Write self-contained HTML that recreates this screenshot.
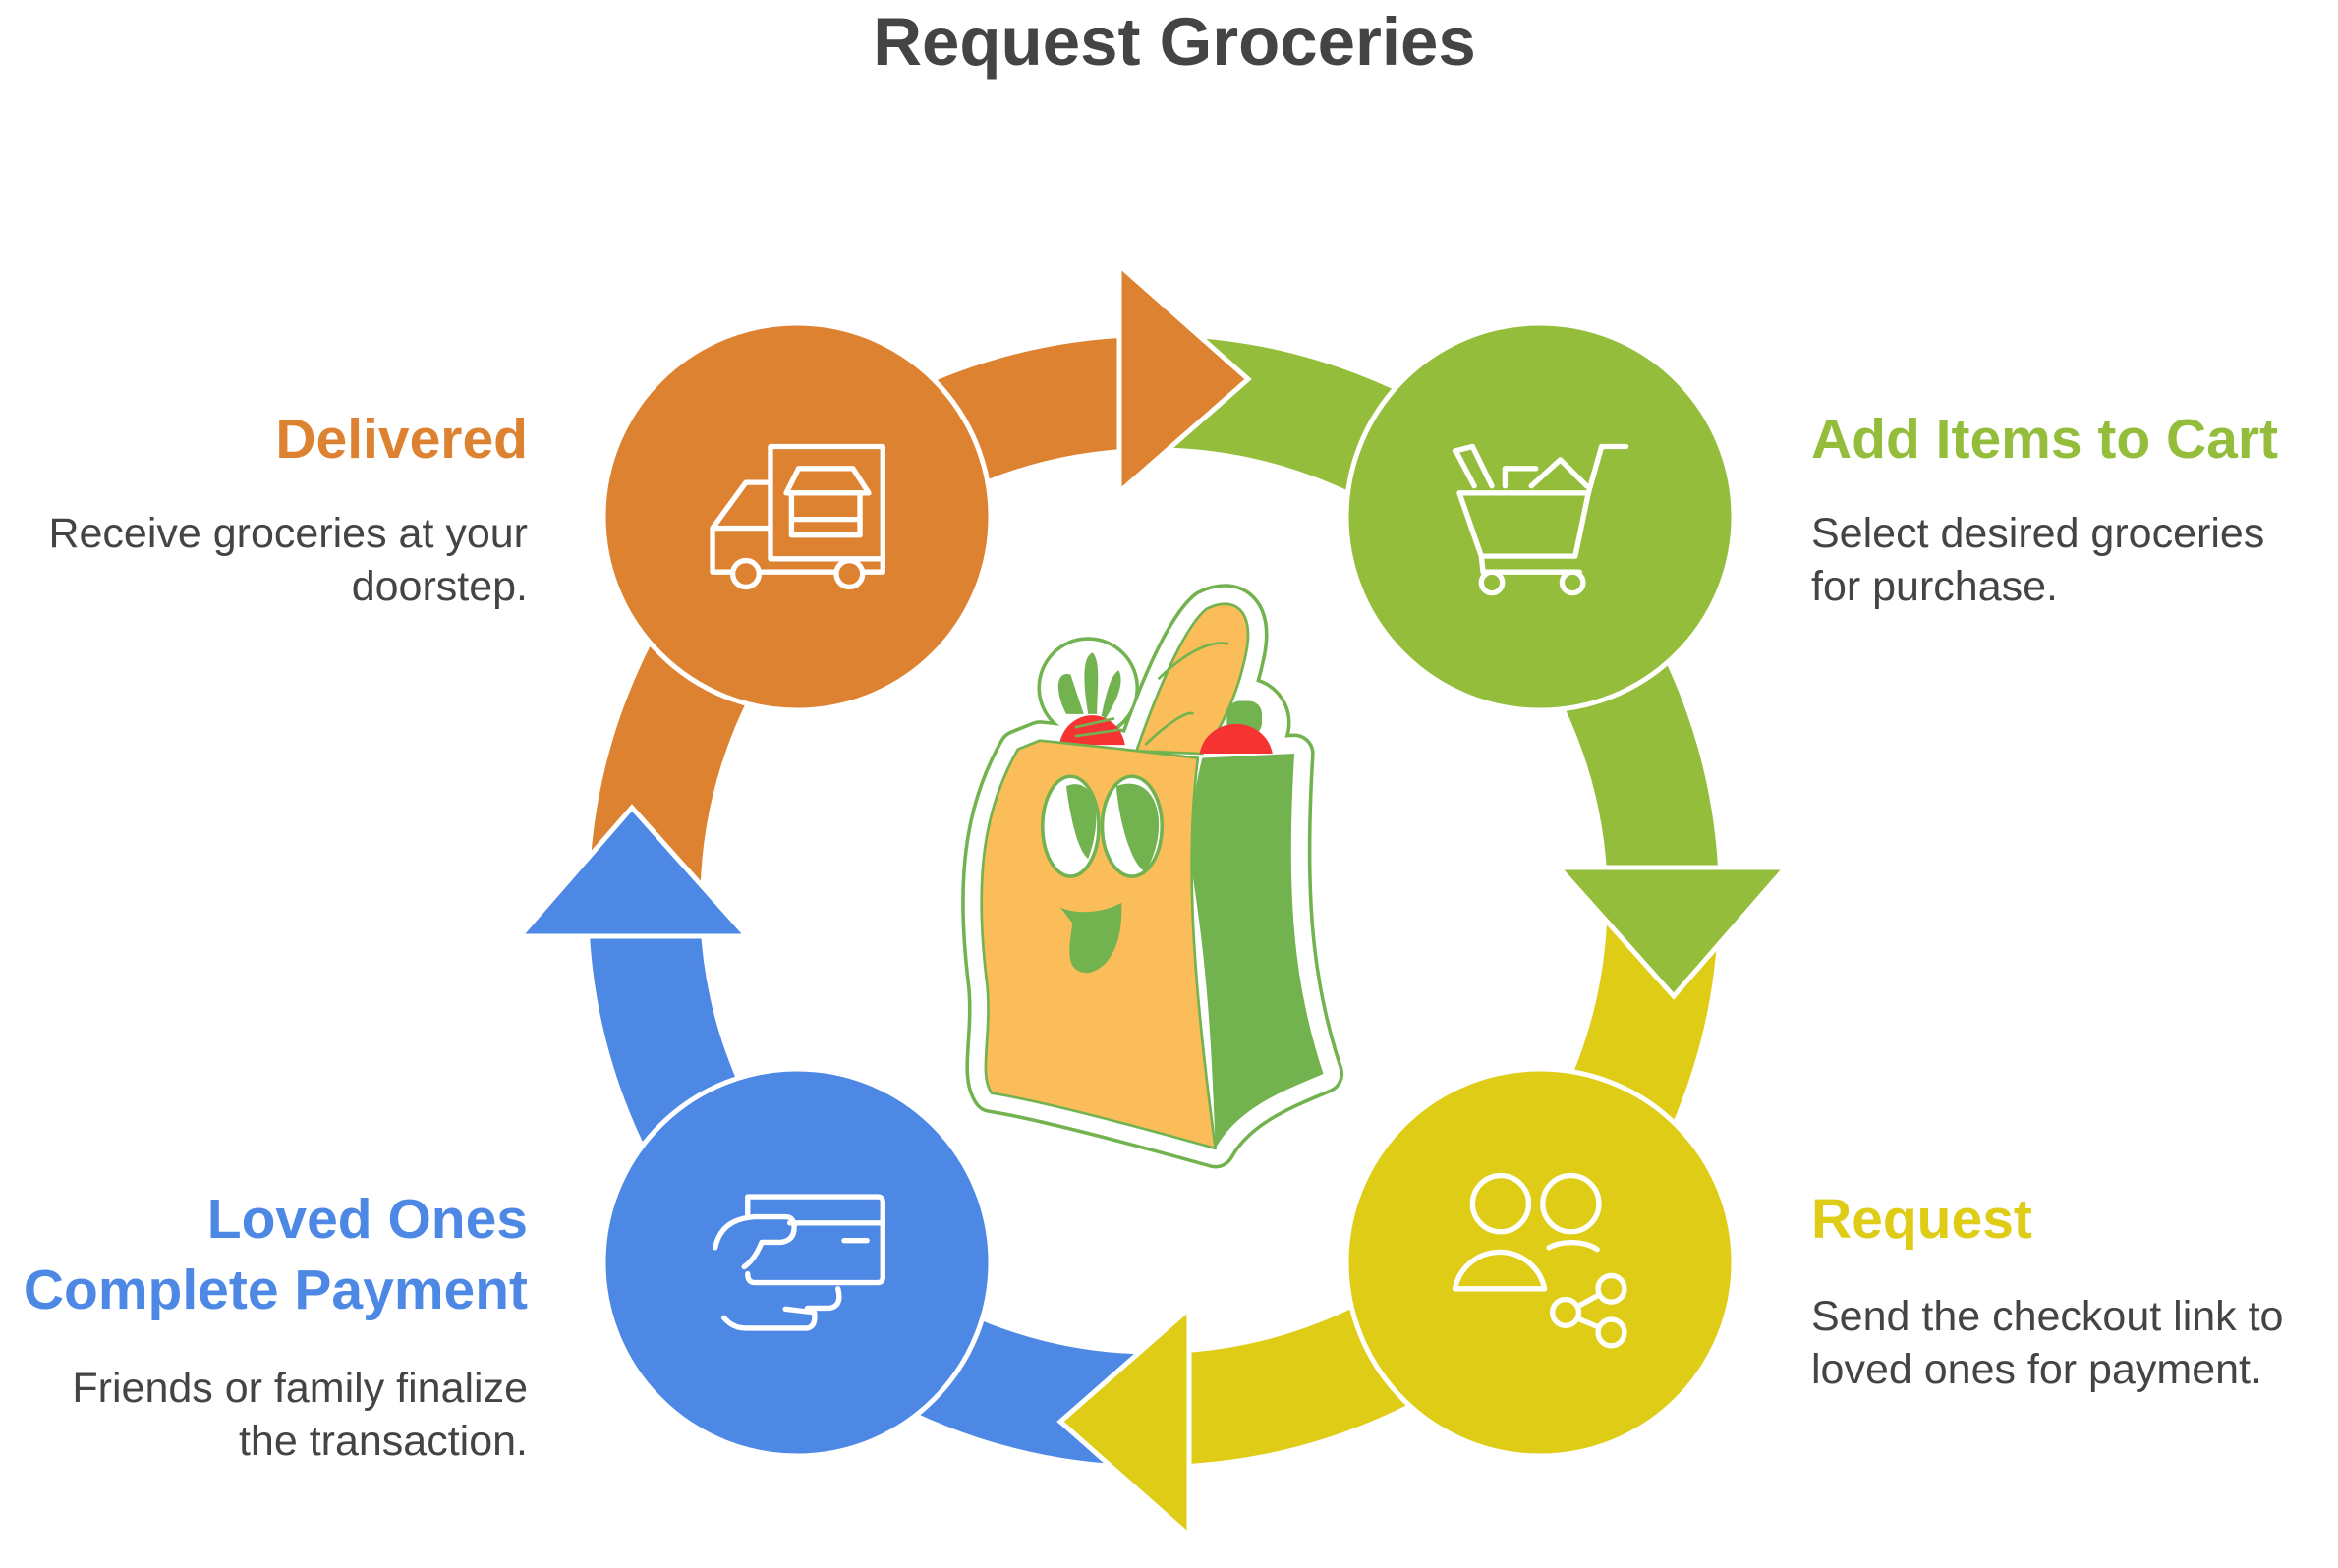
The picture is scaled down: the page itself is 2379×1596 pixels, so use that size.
<!DOCTYPE html>
<html><head><meta charset="utf-8"><style>
html,body{margin:0;padding:0;background:#fff;}
svg{display:block;}
text{font-family:"Liberation Sans",sans-serif;}
.h{font-weight:bold;font-size:57px;}
.b{font-size:43px;fill:#444;}
</style></head><body>
<svg width="2379" height="1596" viewBox="0 0 2379 1596" xmlns="http://www.w3.org/2000/svg">
<text x="1195" y="66" text-anchor="middle" font-weight="bold" font-size="69" fill="#444">Request Groceries</text>

<g fill="none" stroke-width="113">
 <path d="M656,917 A518,518 0 0 1 1150,400" stroke="#DD8230"/>
 <path d="M1174,399 A518,518 0 0 1 1692,893" stroke="#93BD3A"/>
 <path d="M1692,917 A518,518 0 0 1 1198,1434" stroke="#DFCC17"/>
 <path d="M1174,1435 A518,518 0 0 1 656,941" stroke="#4E88E5"/>
</g>
<g stroke="#fff" stroke-width="5" stroke-linejoin="miter">
 <polygon points="1139,270 1139,501 1270,386" fill="#DD8230"/>
 <polygon points="1586,883 1817,883 1703,1014" fill="#93BD3A"/>
 <polygon points="1210,1332 1210,1563 1079,1447" fill="#DFCC17"/>
 <polygon points="529,953 760,953 643,822" fill="#4E88E5"/>
</g>
<g stroke="#fff" stroke-width="5">
 <circle cx="811" cy="526" r="197" fill="#DD8230"/>
 <circle cx="1567" cy="526" r="197" fill="#93BD3A"/>
 <circle cx="1567" cy="1285" r="197" fill="#DFCC17"/>
 <circle cx="811" cy="1285" r="197" fill="#4E88E5"/>
</g>

<g transform="translate(500,200) scale(0.893)">
 <g fill="none" stroke="#fff" stroke-width="6" stroke-linejoin="round" stroke-linecap="round">
  <rect x="318" y="285" width="128" height="128"/>
  <path d="M318,326 L290,326 L252,378 L252,428 L275,428 M305,428 L393,428 M423,428 L446,428 L446,410 M252,378 L318,378"/>
  <circle cx="290" cy="430" r="15"/><circle cx="408" cy="430" r="15"/>
  <path d="M350,310 L412,310 L430,338 L336,338 Z"/>
  <rect x="342" y="338" width="78" height="48"/>
  <path d="M342,368 L420,368"/>
  <path d="M1103,338 L1250,338 L1235,410 L1128,410 Z"/>
  <path d="M1250,338 L1265,285 L1293,285"/>
  <path d="M1128,410 L1130,428 L1240,428"/>
  <circle cx="1140" cy="440" r="12"/><circle cx="1232" cy="440" r="12"/>
  <path d="M1098,290 L1118,285 L1140,330 M1100,292 L1120,330"/>
  <path d="M1155,330 L1155,310 L1190,310 M1185,330 L1218,300 L1248,330"/>
  <circle cx="1150" cy="1148" r="32"/><circle cx="1230" cy="1148" r="32"/>
  <path d="M1098,1245 A52,52 0 0 1 1200,1245 Z"/>
  <path d="M1205,1198 C1220,1190 1245,1190 1260,1200"/>
  <circle cx="1276" cy="1245" r="15"/><circle cx="1224" cy="1272" r="15"/><circle cx="1276" cy="1295" r="15"/>
  <path d="M1238,1265 L1262,1252 M1238,1279 L1262,1289"/>
  <path d="M292,1160 L292,1140 L440,1140 Q446,1140 446,1146 L446,1232 Q446,1238 440,1238 L300,1238 Q292,1238 292,1228"/>
  <path d="M340,1170 L446,1170 M402,1190 L428,1190"/>
  <path d="M255,1198 C260,1175 275,1165 300,1163 L335,1163 Q345,1163 345,1175 Q345,1190 330,1192 L308,1192 Q300,1212 288,1220"/>
  <path d="M265,1278 C275,1290 285,1290 295,1290 L360,1290 Q370,1288 368,1272 L335,1268 M395,1245 Q400,1265 385,1267 L360,1267"/>
 </g>

 <g stroke-linejoin="round">
  <g fill="#72B350" stroke="#72B350" stroke-width="46">
   <path d="M600,630 L625,620 L720,630 L800,640 L915,635 C905,800 915,900 948,1000 C900,1020 850,1040 825,1085 C700,1050 620,1030 570,1022 C555,1000 570,960 565,900 C550,780 560,700 600,630 Z"/>
   <path d="M735,632 C760,560 790,490 815,470 C845,455 870,470 860,520 C850,570 830,610 810,635 Z"/>
   <circle cx="680" cy="560" r="35"/><circle cx="858" cy="600" r="30"/>
  </g>
  <g fill="#fff" stroke="#fff" stroke-width="38">
   <path d="M600,630 L625,620 L720,630 L800,640 L915,635 C905,800 915,900 948,1000 C900,1020 850,1040 825,1085 C700,1050 620,1030 570,1022 C555,1000 570,960 565,900 C550,780 560,700 600,630 Z"/>
   <path d="M735,632 C760,560 790,490 815,470 C845,455 870,470 860,520 C850,570 830,610 810,635 Z"/>
   <circle cx="680" cy="560" r="35"/><circle cx="858" cy="600" r="30"/>
  </g>
  <path d="M655,590 C640,560 645,540 660,545 C665,560 670,575 675,590 Z M680,590 C675,560 672,525 685,520 C695,530 690,565 690,590 Z M695,592 C700,570 705,545 715,540 C722,555 712,575 700,595 Z" fill="#72B350"/>
  <rect x="838" y="575" width="40" height="40" rx="15" fill="#72B350"/>
  <path d="M735,632 C760,560 790,490 815,470 C845,455 870,470 860,520 C850,570 830,610 810,635 Z" fill="#FBBD59" stroke="#72B350" stroke-width="3"/>
  <path d="M760,550 C790,520 820,505 840,510 M745,625 C770,600 795,585 800,590" fill="none" stroke="#72B350" stroke-width="3"/>
  <path d="M647,625 A38,40 0 0 1 722,625 Z" fill="#F53333"/>
  <path d="M807,635 A42,40 0 0 1 890,635 Z" fill="#F53333"/>
  <path d="M665,605 L710,595 M665,615 L715,608" stroke="#72B350" stroke-width="3" fill="none"/>
  <path d="M600,630 L625,620 L720,630 L805,640 C790,760 800,900 825,1085 C700,1050 620,1030 570,1022 C555,1000 570,960 565,900 C550,780 560,700 600,630 Z" fill="#FBBD59" stroke="#72B350" stroke-width="3"/>
  <path d="M810,640 L915,635 C905,800 915,900 948,1000 C900,1020 850,1040 825,1085 C820,950 815,880 800,780 C795,720 800,680 810,640 Z" fill="#72B350"/>
  <ellipse cx="660" cy="718" rx="32" ry="57" fill="#fff" stroke="#72B350" stroke-width="4"/>
  <ellipse cx="730" cy="718" rx="34" ry="57" fill="#fff" stroke="#72B350" stroke-width="4"/>
  <path d="M655,672 C685,660 700,700 680,755 C668,745 660,710 655,672 Z" fill="#72B350"/>
  <path d="M712,672 C760,655 775,720 745,770 C728,760 715,710 712,672 Z" fill="#72B350"/>
  <path d="M648,810 C670,820 700,815 718,805 C720,850 705,880 680,885 C650,885 660,850 662,828 Z" fill="#72B350"/>
 </g>
</g>

<text class="h" x="537" y="466" text-anchor="end" fill="#DD8230">Delivered</text>
<text class="b" x="537" y="557" text-anchor="end">Receive groceries at your</text>
<text class="b" x="537" y="611" text-anchor="end">doorstep.</text>

<text class="h" x="1843" y="466" fill="#93BD3A">Add Items to Cart</text>
<text class="b" x="1843" y="557">Select desired groceries</text>
<text class="b" x="1843" y="611">for purchase.</text>

<text class="h" x="1843" y="1260" fill="#DFCC17">Request</text>
<text class="b" x="1843" y="1354">Send the checkout link to</text>
<text class="b" x="1843" y="1408">loved ones for payment.</text>

<text class="h" x="537" y="1260" text-anchor="end" fill="#4E88E5">Loved Ones</text>
<text class="h" x="537" y="1332" text-anchor="end" fill="#4E88E5">Complete Payment</text>
<text class="b" x="537" y="1427" text-anchor="end">Friends or family finalize</text>
<text class="b" x="537" y="1481" text-anchor="end">the transaction.</text>
</svg>
</body></html>
